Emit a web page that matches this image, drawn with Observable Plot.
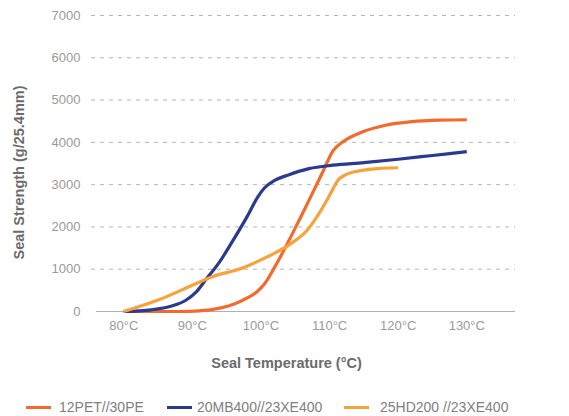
<!DOCTYPE html>
<html>
<head>
<meta charset="utf-8">
<script src="https://cdn.jsdelivr.net/npm/d3@7"></script>
<script src="https://cdn.jsdelivr.net/npm/@observablehq/plot@0.6"></script>
<style>
  html, body { margin: 0; padding: 0; background: #fff; }
  body { width: 569px; height: 416px; overflow: hidden; font-family: "Liberation Sans", Arial, Helvetica, sans-serif; }
  #legend { position: relative; height: 31px; width: 569px; }
  .item { position: absolute; top: 14px; height: 16px; line-height: 16px; font-size: 14px; color: #808080; white-space: nowrap; }
  .sw { position: absolute; top: 7px; height: 3px; width: 25px; }
</style>
</head>
<body>
<div id="chart"></div>
<div id="legend"></div>
<script>
const seriesNames = ["12PET//30PE", "20MB400//23XE400", "25HD200 //23XE400"];
const seriesColors = ["#f26a2c", "#2b3990", "#f9a13a"];

const tempPET = [80, 88, 91, 94, 96, 98, 99.5, 100.5, 102, 106, 109, 110.5, 112, 115, 118, 122, 126, 130];
const valPET  = [0, 0, 15, 80, 170, 320, 480, 650, 1050, 2300, 3300, 3800, 4020, 4260, 4400, 4490, 4525, 4535];

const tempMB = [80, 84, 87, 89, 90.5, 92, 94, 96, 98, 99.5, 100.5, 102, 104, 107, 110.5, 115, 120, 125, 130];
const valMB  = [0, 40, 130, 260, 450, 760, 1180, 1700, 2250, 2700, 2920, 3100, 3230, 3380, 3460, 3520, 3600, 3690, 3780];

const tempHD = [80, 85, 90, 93, 97, 100, 102, 104.3, 106.7, 108, 109.5, 110.5, 111.2, 112.3, 114.5, 117, 120];
const valHD  = [0, 270, 620, 830, 1010, 1220, 1380, 1600, 1915, 2200, 2600, 2900, 3100, 3230, 3330, 3380, 3400];

const xTicks = [80, 90, 100, 110, 120, 130];
const yTicks = [0, 1000, 2000, 3000, 4000, 5000, 6000, 7000];

const xLabel = "Seal Temperature (°C)";
const yLabel = "Seal Strength (g/25.4mm)";

const rows = [];
[[tempPET, valPET], [tempMB, valMB], [tempHD, valHD]].forEach(([t, v], i) => {
  t.forEach((tt, j) => rows.push({series: seriesNames[i], t: tt, v: v[j]}));
});

const chart = Plot.plot({
  width: 569,
  height: 385,
  marginLeft: 91,
  marginRight: 54,
  marginTop: 15,
  marginBottom: 74,
  style: {fontFamily: '"Liberation Sans", Arial, Helvetica, sans-serif', background: "#fff"},
  x: {domain: [75.3, 137.1], ticks: xTicks, tickFormat: d => d + "°C"},
  y: {domain: [0, 7000], ticks: yTicks, tickFormat: d => String(d)},
  color: {domain: seriesNames, range: seriesColors},
  marks: [
    Plot.ruleY(yTicks.filter(d => d > 0), {stroke: "#b5b5b5", strokeDasharray: "4,5", strokeWidth: 1}),
    Plot.ruleY([0], {stroke: "#b0b0b0", strokeWidth: 1.2, insetLeft: 5}),
    Plot.axisY({ticks: yTicks, tickSize: 0, tickPadding: 11, label: null, fontSize: 13, color: "#9a9a9a", tickFormat: d => String(d)}),
    Plot.axisX({ticks: xTicks, tickSize: 0, tickPadding: 9, label: null, fontSize: 13, color: "#9a9a9a", tickFormat: d => d + "°C"}),
    Plot.line(rows, {x: "t", y: "v", z: "series", stroke: "series", strokeWidth: 3.2, curve: "monotone-x", strokeLinecap: "butt"}),
    Plot.text([xLabel], {frameAnchor: "bottom", dx: -17, dy: 52, fontSize: 14.5, fontWeight: "bold", fill: "#6b6b6b", lineAnchor: "middle"}),
    Plot.text([yLabel], {frameAnchor: "left", rotate: -90, dx: -72, dy: 9, fontSize: 14.5, fontWeight: "bold", fill: "#6b6b6b", lineAnchor: "middle", textAnchor: "middle"})
  ]
});
document.getElementById("chart").appendChild(chart);

const legendPos = [[26, 59], [167, 197], [344, 380]];
const legend = document.getElementById("legend");
seriesNames.forEach((name, i) => {
  const sw = document.createElement("div");
  sw.className = "item";
  sw.style.left = legendPos[i][0] + "px";
  sw.innerHTML = `<span class="sw" style="left:0;background:${seriesColors[i]}"></span>`;
  legend.appendChild(sw);
  const tx = document.createElement("div");
  tx.className = "item";
  tx.style.left = legendPos[i][1] + "px";
  tx.textContent = name;
  legend.appendChild(tx);
});
</script>
</body>
</html>
